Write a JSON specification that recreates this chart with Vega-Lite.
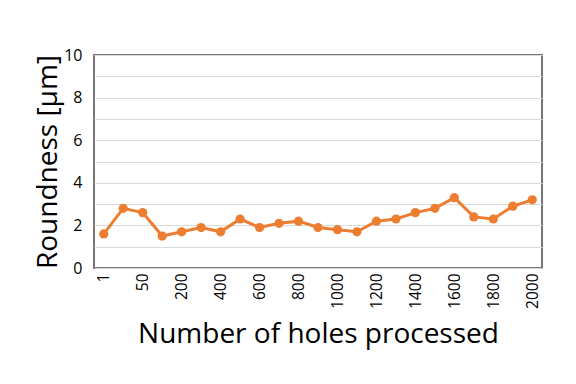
{
  "$schema": "https://vega.github.io/schema/vega-lite/v6.json",
  "width": 448,
  "height": 213,
  "autosize": "none",
  "padding": {"left": 94, "top": 55, "right": 34, "bottom": 116},
  "background": "white",
  "config": {
    "font": "Open Sans",
    "view": {"stroke": "#767676", "strokeWidth": 2}
  },
  "data": {
    "values": [
      {"holes": "1", "roundness": 1.6},
      {"holes": "25", "roundness": 2.8},
      {"holes": "50", "roundness": 2.6},
      {"holes": "100", "roundness": 1.5},
      {"holes": "200", "roundness": 1.7},
      {"holes": "300", "roundness": 1.9},
      {"holes": "400", "roundness": 1.7},
      {"holes": "500", "roundness": 2.3},
      {"holes": "600", "roundness": 1.9},
      {"holes": "700", "roundness": 2.1},
      {"holes": "800", "roundness": 2.2},
      {"holes": "900", "roundness": 1.9},
      {"holes": "1000", "roundness": 1.8},
      {"holes": "1100", "roundness": 1.7},
      {"holes": "1200", "roundness": 2.2},
      {"holes": "1300", "roundness": 2.3},
      {"holes": "1400", "roundness": 2.6},
      {"holes": "1500", "roundness": 2.8},
      {"holes": "1600", "roundness": 3.3},
      {"holes": "1700", "roundness": 2.4},
      {"holes": "1800", "roundness": 2.3},
      {"holes": "1900", "roundness": 2.9},
      {"holes": "2000", "roundness": 3.2}
    ]
  },
  "mark": {
    "type": "line",
    "color": "#ED7D31",
    "strokeWidth": 3,
    "point": {"filled": true, "color": "#ED7D31", "size": 85, "opacity": 1}
  },
  "encoding": {
    "x": {
      "field": "holes",
      "type": "ordinal",
      "sort": null,
      "scale": {"type": "point", "padding": 0.5},
      "axis": {
        "title": "Number of holes processed",
        "titleFont": "Open Sans",
        "titleFontSize": 28,
        "titleFontWeight": "normal",
        "titleColor": "#000000",
        "titlePadding": 12,
        "labelAngle": -90,
        "labelFontSize": 15.5,
        "labelColor": "#000000",
        "labelPadding": 5,
        "labelExpr": "indexof(['1','50','200','400','600','800','1000','1200','1400','1600','1800','2000'], datum.label) >= 0 ? datum.label : ''",
        "ticks": false,
        "domain": false,
        "grid": false
      }
    },
    "y": {
      "field": "roundness",
      "type": "quantitative",
      "scale": {"domain": [0, 10], "nice": false},
      "axis": {
        "title": "Roundness [μm]",
        "titleFont": "Open Sans",
        "titleFontSize": 28,
        "titleFontWeight": "normal",
        "titleColor": "#000000",
        "titlePadding": 1,
        "values": [0, 1, 2, 3, 4, 5, 6, 7, 8, 9, 10],
        "labelExpr": "datum.value % 2 == 0 ? datum.label : ''",
        "gridColor": "#d9d9d9",
        "gridWidth": 1,
        "labelFontSize": 16,
        "labelColor": "#000000",
        "labelPadding": 12,
        "ticks": false,
        "domain": false
      }
    }
  }
}
